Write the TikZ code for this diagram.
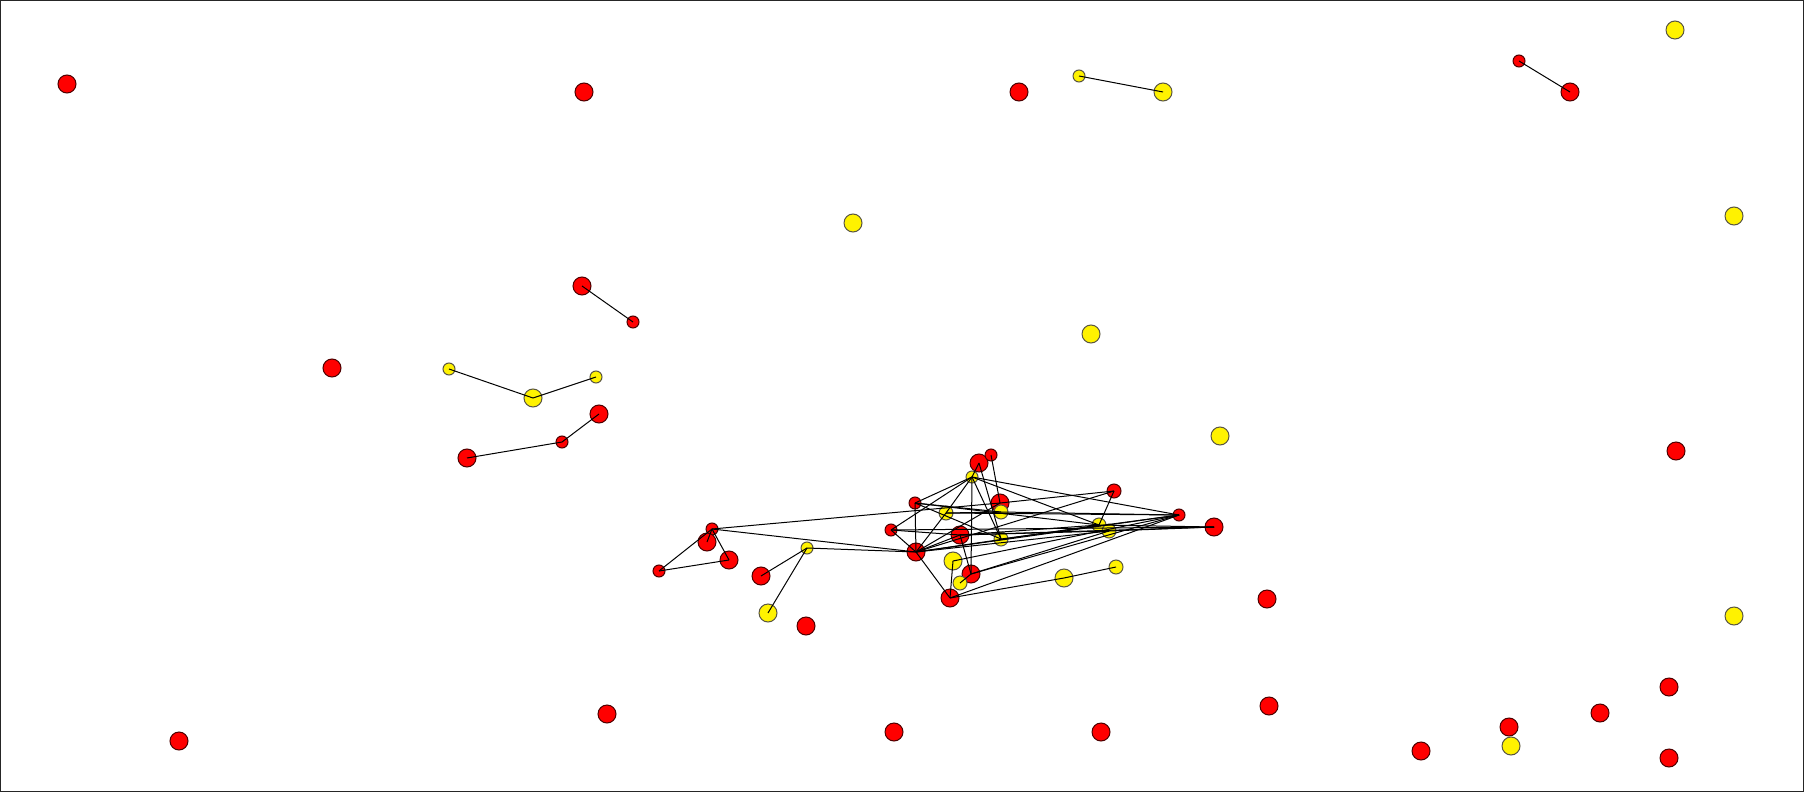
\documentclass[tikz,border=0pt]{standalone}
\begin{document}
\begin{tikzpicture}[x=0.5pt,y=-0.5pt,
  rn/.style={circle,draw=black!70!red,fill=red,inner sep=0pt,line width=0.5pt},
  yn/.style={circle,draw=black!75!yellow,fill=yellow,inner sep=0pt,line width=0.5pt},
  big/.style={minimum size=9pt},
  med/.style={minimum size=7pt},
  sml/.style={minimum size=6pt},
  edge/.style={line width=0.5pt,black}]
\useasboundingbox (0,0) rectangle (1804,792);
\draw[line width=0.5pt,black!85] (0.5,0.5) rectangle (1803.5,791.5);
% isolated and small components
\node[rn,big] (n1) at (67,84) {};
\node[rn,big] (n2) at (584,92) {};
\node[rn,big] (n3) at (1019,92) {};
\node[yn,sml] (n4) at (1079,76) {};
\node[yn,big] (n5) at (1163,92) {};
\node[rn,sml] (n6) at (1519,61) {};
\node[rn,big] (n7) at (1570,92) {};
\node[yn,big] (n8) at (1675,30) {};
\node[yn,big] (n9) at (853,223) {};
\node[yn,big] (n10) at (1734,216) {};
\node[rn,big] (n11) at (582,286) {};
\node[rn,sml] (n12) at (633,322) {};
\node[rn,big] (n13) at (332,368) {};
\node[yn,sml] (n14) at (449,369) {};
\node[yn,big] (n15) at (533,398) {};
\node[yn,sml] (n16) at (596,377) {};
\node[rn,big] (n17) at (599,414) {};
\node[rn,sml] (n18) at (562,442) {};
\node[rn,big] (n19) at (467,458) {};
\node[yn,big] (n20) at (1091,334) {};
\node[yn,big] (n21) at (1220,436) {};
\node[rn,big] (n22) at (1676,451) {};
\node[rn,big] (n23) at (1267,599) {};
\node[yn,big] (n24) at (1734,616) {};
\node[rn,big] (n25) at (179,741) {};
\node[rn,big] (n26) at (607,714) {};
\node[rn,big] (n27) at (894,732) {};
\node[rn,big] (n28) at (1101,732) {};
\node[rn,big] (n29) at (1269,706) {};
\node[rn,big] (n30) at (1421,751) {};
\node[rn,big] (n31) at (1509,727) {};
\node[yn,big] (n32) at (1511,746) {};
\node[rn,big] (n33) at (1600,713) {};
\node[rn,big] (n34) at (1669,687) {};
\node[rn,big] (n35) at (1669,758) {};
% cluster
\node[rn,big] (A) at (979,463) {};
\node[rn,sml] (B) at (991,455) {};
\node[yn,sml] (C) at (972,477) {};
\node[rn,sml] (D) at (915,503) {};
\node[rn,big] (E) at (1000,503) {};
\node[yn,med] (F) at (1001,512) {};
\node[yn,med] (G) at (946,513) {};
\node[rn,sml] (H) at (891,530) {};
\node[rn,big] (I) at (960,535) {};
\node[yn,med] (J) at (1001,539) {};
\node[rn,big] (K) at (916,552) {};
\node[yn,big] (L) at (953,561) {};
\node[rn,big] (M) at (971,574) {};
\node[yn,med] (N) at (960,583) {};
\node[rn,big] (O) at (950,598) {};
\node[rn,med] (P) at (1114,491) {};
\node[rn,sml] (Q) at (1179,515) {};
\node[yn,med] (R) at (1099,525) {};
\node[yn,med] (S) at (1109,531) {};
\node[rn,big] (T) at (1214,527) {};
\node[yn,big] (U) at (1064,578) {};
\node[yn,med] (V) at (1116,567) {};
\node[rn,sml] (W) at (712,529) {};
\node[rn,big] (X) at (707,542) {};
\node[rn,big] (Y) at (729,560) {};
\node[rn,sml] (Z) at (659,571) {};
\node[yn,sml] (AA) at (807,548) {};
\node[rn,big] (AB) at (761,576) {};
\node[yn,big] (AC) at (768,613) {};
\node[rn,big] (AD) at (806,626) {};
% edges
\foreach \a/\b in {n4/n5,n6/n7,n11/n12,n14/n15,n15/n16,n17/n18,n18/n19,
  A/C,B/E,C/D,C/G,G/K,C/M,C/J,C/H,C/Q,C/R,A/J,D/J,D/F,D/R,G/Q,G/F,
  H/T,H/K,H/I,K/Q,K/R,K/S,K/P,K/I,K/O,K/E,I/R,I/S,I/M,M/Q,M/S,O/Q,O/U,U/V,
  O/L,E/P,P/R,F/Q,J/Q,L/Q,I/T,N/M,S/T,R/T,D/K,
  W/Z,Z/Y,W/Y,W/X,W/E,W/K,AA/K,AA/AB,AA/AC}
  \draw[edge] (\a.center) -- (\b.center);
\end{tikzpicture}
\end{document}
